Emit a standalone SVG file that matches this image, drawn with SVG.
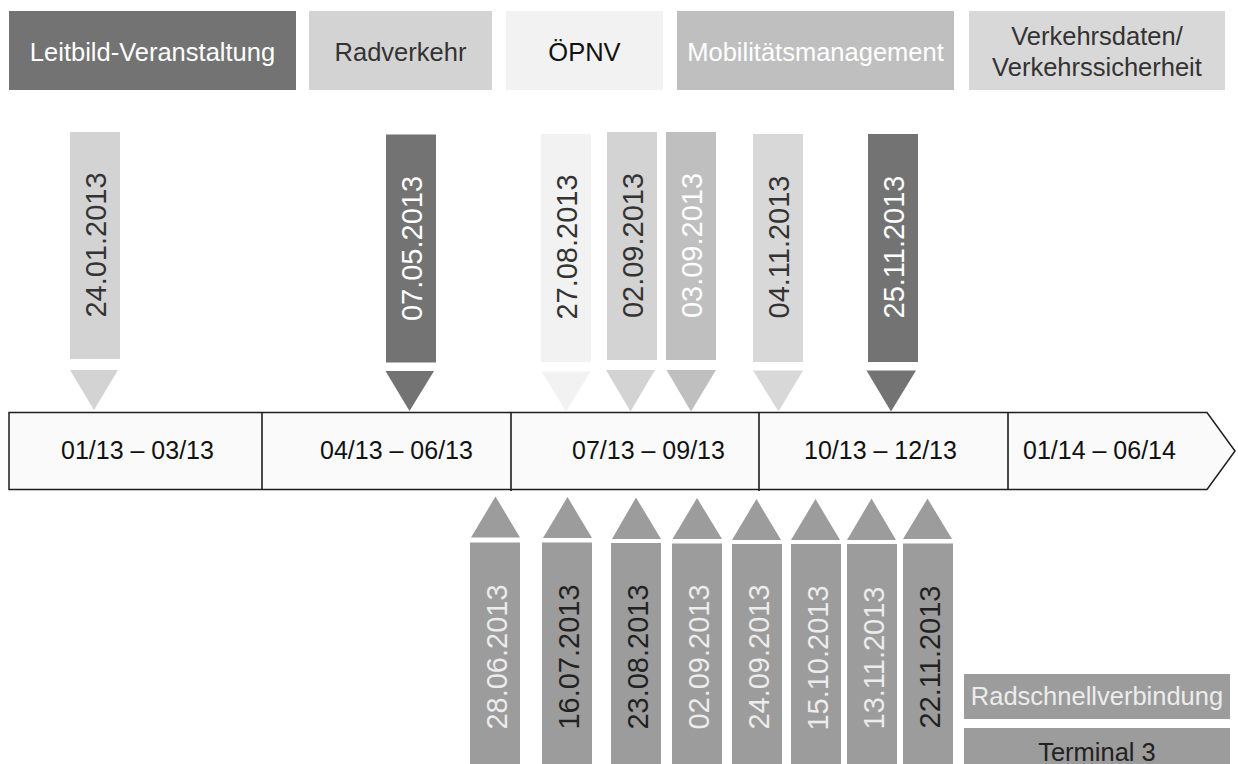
<svg xmlns="http://www.w3.org/2000/svg" width="1238" height="764" viewBox="0 0 1238 764">
<style>
text{font-family:"Liberation Sans",Arial,sans-serif;}
.h{font-size:25.5px;text-anchor:middle;}
.d{font-size:29px;text-anchor:middle;}
.p{font-size:25px;}
.c1{fill:#737373;}
.c2{fill:#d3d3d3;}
.c3{fill:#f2f2f2;}
.c4{fill:#bfbfbf;}
.c5{fill:#d8d8d8;}
.c6{fill:#9c9c9c;}
.tw{fill:#ffffff;}
.tl{fill:#ececec;}
.td{fill:#333333;}
.tk{fill:#111111;}
.tl2{fill:#222222;}
</style>
<rect width="1238" height="764" fill="#ffffff"/>

<!-- Header categories -->
<g id="cat-leitbild"><rect class="c1" x="9" y="11" width="287" height="79"/><text class="h tw" x="152.5" y="60.5">Leitbild-Veranstaltung</text></g>
<g id="cat-radverkehr"><rect class="c2" x="309" y="11" width="183" height="79"/><text class="h td" x="400.5" y="60.5">Radverkehr</text></g>
<g id="cat-oepnv"><rect class="c3" x="506" y="11" width="157" height="79"/><text class="h tk" x="584.5" y="60.5">ÖPNV</text></g>
<g id="cat-mobilitaet"><rect class="c4" x="677" y="11" width="277" height="79"/><text class="h tw" x="815.5" y="60.5">Mobilitätsmanagement</text></g>
<g id="cat-verkehrsdaten"><rect class="c5" x="969" y="11" width="256" height="79"/><text class="h td" x="1097" y="44.5">Verkehrsdaten/</text><text class="h td" x="1097" y="75.5">Verkehrssicherheit</text></g>

<!-- Timeline -->
<g id="timeline">
<path d="M9,412.5 L1207,412.5 L1235,451 L1207,489.5 L9,489.5 Z" fill="#fafafa" stroke="#1e1e1e" stroke-width="1.5"/>
<line x1="262" y1="412.5" x2="262" y2="490" stroke="#1e1e1e" stroke-width="1.6"/>
<line x1="511" y1="412.5" x2="511" y2="491" stroke="#1e1e1e" stroke-width="1.6"/>
<line x1="759" y1="412.5" x2="759" y2="491" stroke="#1e1e1e" stroke-width="1.6"/>
<line x1="1008" y1="412.5" x2="1008" y2="489.5" stroke="#1e1e1e" stroke-width="1.6"/>
<text class="p tk" x="61" y="458.5">01/13 – 03/13</text>
<text class="p tk" x="320" y="458.5">04/13 – 06/13</text>
<text class="p tk" x="572" y="458.5">07/13 – 09/13</text>
<text class="p tk" x="804" y="458.5">10/13 – 12/13</text>
<text class="p tk" x="1023" y="458.5">01/14 – 06/14</text>
</g>

<g id="connectors"></g>

<!-- Top markers (pointing down) -->
<g id="m-24-01"><rect class="c2" x="70" y="132" width="50" height="227"/><polygon class="c2" points="70,370 118,370 94,410"/><text class="d td" transform="translate(105.5,245) rotate(-90)">24.01.2013</text></g>
<g id="m-07-05"><rect class="c1" x="386" y="134.5" width="50" height="228"/><polygon class="c1" points="385.5,371 434,371 409.5,411"/><text class="d tw" transform="translate(421.5,248.5) rotate(-90)">07.05.2013</text></g>
<g id="m-27-08"><rect class="c3" x="541" y="134" width="50" height="228"/><polygon class="c3" points="541.5,371.5 590.5,371.5 566,411.5"/><text class="d td" transform="translate(576.5,247) rotate(-90)">27.08.2013</text></g>
<g id="m-02-09"><rect class="c2" x="607" y="132" width="50" height="228"/><polygon class="c2" points="606,370 655,370 630.5,411.5"/><text class="d td" transform="translate(642.5,245.5) rotate(-90)">02.09.2013</text></g>
<g id="m-03-09"><rect class="c4" x="666" y="132" width="50" height="228"/><polygon class="c4" points="666.5,370 716,370 691,411.5"/><text class="d tw" transform="translate(701.5,245.5) rotate(-90)">03.09.2013</text></g>
<g id="m-04-11"><rect class="c5" x="753" y="134" width="50" height="228"/><polygon class="c5" points="753,370.5 803,370.5 778.5,411.5"/><text class="d td" transform="translate(788.5,247) rotate(-90)">04.11.2013</text></g>
<g id="m-25-11"><rect class="c1" x="868" y="134" width="50" height="228"/><polygon class="c1" points="866.5,370.5 916,370.5 891,411.5"/><text class="d tw" transform="translate(903.5,247) rotate(-90)">25.11.2013</text></g>

<!-- Bottom markers (pointing up) -->
<g id="b-28-06"><polygon class="c6" points="471,537.5 520,537.5 495.5,496.5"/><rect class="c6" x="470" y="542.5" width="50" height="230"/><text class="d tl" transform="translate(506.5,657) rotate(-90)">28.06.2013</text></g>
<g id="b-16-07"><polygon class="c6" points="543,538 592,538 567.5,497"/><rect class="c6" x="542" y="542.5" width="50" height="230"/><text class="d tl2" transform="translate(578.5,657) rotate(-90)">16.07.2013</text></g>
<g id="b-23-08"><polygon class="c6" points="612,539 661,539 636,497.5"/><rect class="c6" x="611" y="543" width="50" height="230"/><text class="d tl2" transform="translate(647.5,657) rotate(-90)">23.08.2013</text></g>
<g id="b-02-09"><polygon class="c6" points="672.5,539 722,539 697,498"/><rect class="c6" x="672" y="543.5" width="50" height="230"/><text class="d tl" transform="translate(708.5,657) rotate(-90)">02.09.2013</text></g>
<g id="b-24-09"><polygon class="c6" points="732,540 781,540 756.5,499"/><rect class="c6" x="732" y="544" width="50" height="230"/><text class="d tl" transform="translate(768.5,657) rotate(-90)">24.09.2013</text></g>
<g id="b-15-10"><polygon class="c6" points="791,540 840,540 815.5,499"/><rect class="c6" x="791" y="544" width="50" height="230"/><text class="d tl" transform="translate(827.5,658) rotate(-90)">15.10.2013</text></g>
<g id="b-13-11"><polygon class="c6" points="847,540 896,540 871.5,498.5"/><rect class="c6" x="847" y="544" width="50" height="230"/><text class="d tl" transform="translate(883.5,658) rotate(-90)">13.11.2013</text></g>
<g id="b-22-11"><polygon class="c6" points="903,539 952,539 927.5,498.5"/><rect class="c6" x="903" y="543.5" width="50" height="230"/><text class="d tl2" transform="translate(939.5,657) rotate(-90)">22.11.2013</text></g>

<!-- Legend -->
<g id="legend-radschnell"><rect class="c6" x="964" y="674" width="266" height="45"/><text class="h tl" x="1097" y="705">Radschnellverbindung</text></g>
<g id="legend-terminal3"><rect class="c6" x="964" y="728" width="266" height="45"/><text class="h tl2" x="1097" y="761">Terminal 3</text></g>
</svg>
